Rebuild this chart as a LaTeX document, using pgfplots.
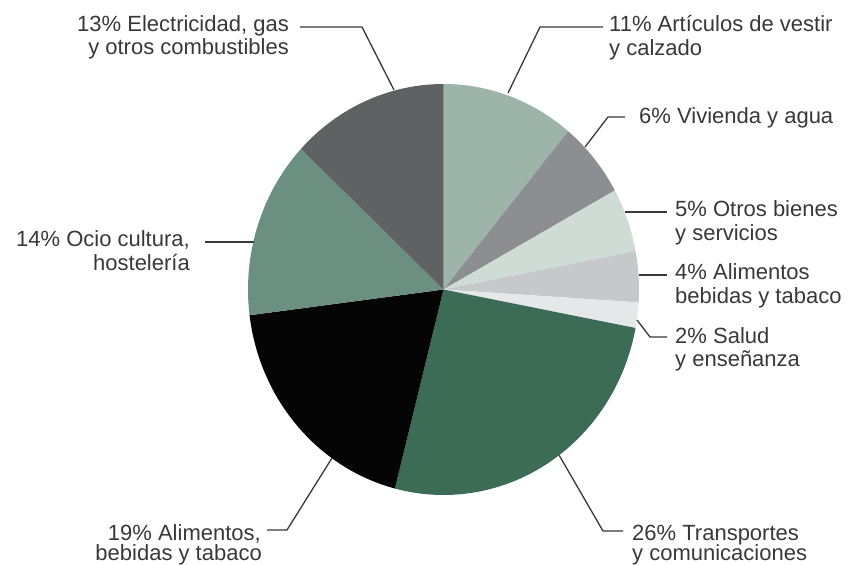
\documentclass[border=0pt]{standalone}
\usepackage{pgfplots}
\pgfplotsset{compat=1.18}
\usepackage{fontspec}
\setmainfont{Liberation Sans}
\definecolor{cArt}{HTML}{9DB5A9}
\definecolor{cViv}{HTML}{8D8E91}
\definecolor{cOtr}{HTML}{CFDCD6}
\definecolor{cAlA}{HTML}{C7C8C9}
\definecolor{cSal}{HTML}{E6E7E8}
\definecolor{cTra}{HTML}{3C6B56}
\definecolor{cAlB}{HTML}{050505}
\definecolor{cOci}{HTML}{6B8F80}
\definecolor{cEle}{HTML}{606163}
\definecolor{txt}{HTML}{383838}
\begin{document}
\begin{tikzpicture}
% shares in percent, clockwise from the top
\def\pArt{11}\def\pViv{6}\def\pOtr{5}\def\pAlA{4}\def\pSal{2}
\def\pTra{26}\def\pAlB{19}\def\pOci{14}\def\pEle{13}
\pgfmathsetmacro\aA{90}
\pgfmathsetmacro\aB{\aA-3.6*\pArt}
\pgfmathsetmacro\aC{\aB-3.6*\pViv}
\pgfmathsetmacro\aD{\aC-3.6*\pOtr}
\pgfmathsetmacro\aE{\aD-3.6*\pAlA}
\pgfmathsetmacro\aF{\aE-3.6*\pSal}
\pgfmathsetmacro\aG{\aF-3.6*\pTra}
\pgfmathsetmacro\aH{\aG-3.6*\pAlB}
\pgfmathsetmacro\aI{\aH-3.6*\pOci}
\pgfmathsetmacro\aJ{\aI-3.6*\pEle}
\def\rx{195.5bp}\def\ry{205.5bp}
\begin{axis}[hide axis, scale only axis, width=849bp, height=565bp,
  xmin=0, xmax=849, ymin=0, ymax=565, clip=false]
\addplot[draw=none, forget plot] coordinates {(0,0) (849,565)};
\def\wedge#1#2#3{\fill[#1] (axis cs:443.5,275.5) -- ++(#2:\rx\space and \ry) arc[start angle=#2, end angle=#3, x radius=\rx, y radius=\ry] -- cycle;}
\fill[cArt] (axis cs:443.5,275.5) -- ++(\aA:195.5bp and 205.5bp) arc[start angle=\aA, end angle=\aB, x radius=195.5bp, y radius=205.5bp] -- cycle;
\fill[cViv] (axis cs:443.5,275.5) -- ++(\aB:195.5bp and 205.5bp) arc[start angle=\aB, end angle=\aC, x radius=195.5bp, y radius=205.5bp] -- cycle;
\fill[cOtr] (axis cs:443.5,275.5) -- ++(\aC:195.5bp and 205.5bp) arc[start angle=\aC, end angle=\aD, x radius=195.5bp, y radius=205.5bp] -- cycle;
\fill[cAlA] (axis cs:443.5,275.5) -- ++(\aD:195.5bp and 205.5bp) arc[start angle=\aD, end angle=\aE, x radius=195.5bp, y radius=205.5bp] -- cycle;
\fill[cSal] (axis cs:443.5,275.5) -- ++(\aE:195.5bp and 205.5bp) arc[start angle=\aE, end angle=\aF, x radius=195.5bp, y radius=205.5bp] -- cycle;
\fill[cTra] (axis cs:443.5,275.5) -- ++(\aF:195.5bp and 205.5bp) arc[start angle=\aF, end angle=\aG, x radius=195.5bp, y radius=205.5bp] -- cycle;
\fill[cAlB] (axis cs:443.5,275.5) -- ++(\aG:195.5bp and 205.5bp) arc[start angle=\aG, end angle=\aH, x radius=195.5bp, y radius=205.5bp] -- cycle;
\fill[cOci] (axis cs:443.5,275.5) -- ++(\aH:195.5bp and 205.5bp) arc[start angle=\aH, end angle=\aI, x radius=195.5bp, y radius=205.5bp] -- cycle;
\fill[cEle] (axis cs:443.5,275.5) -- ++(\aI:195.5bp and 205.5bp) arc[start angle=\aI, end angle=\aJ, x radius=195.5bp, y radius=205.5bp] -- cycle;
% leader lines
\begin{scope}[line width=1.3bp, txt]
\draw (axis cs:300,538) -- (axis cs:362,538) -- (axis cs:394,475);
\draw (axis cs:603,538) -- (axis cs:540,538) -- (axis cs:508,472);
\draw (axis cs:625,448) -- (axis cs:608,448) -- (axis cs:585,418);
\draw (axis cs:625,353) -- (axis cs:667,353);
\draw (axis cs:638.5,290) -- (axis cs:667,290);
\draw (axis cs:637,245) -- (axis cs:650,228) -- (axis cs:667,228);
\draw (axis cs:205,323) -- (axis cs:253.5,323);
\draw (axis cs:267,35) -- (axis cs:287,35) -- (axis cs:332,107);
\draw (axis cs:559,110) -- (axis cs:603,34) -- (axis cs:623,34);
\end{scope}
% labels
\begin{scope}[every node/.style={inner sep=0pt, text=txt, font=\fontsize{22bp}{24bp}\selectfont}]
\node[anchor=base east] at (axis cs:289,533) {13\% Electricidad, gas};
\node[anchor=base east] at (axis cs:289,510) {y otros combustibles};
\node[anchor=base west] at (axis cs:609,533) {11\% Artículos de vestir};
\node[anchor=base west] at (axis cs:609,509) {y calzado};
\node[anchor=base west] at (axis cs:639,441) {6\% Vivienda y agua};
\node[anchor=base west] at (axis cs:675,348) {5\% Otros bienes};
\node[anchor=base west] at (axis cs:675,324) {y servicios};
\node[anchor=base west] at (axis cs:675,285) {4\% Alimentos};
\node[anchor=base west] at (axis cs:675,261) {bebidas y tabaco};
\node[anchor=base west] at (axis cs:675,221) {2\% Salud};
\node[anchor=base west] at (axis cs:675,198) {y enseñanza};
\node[anchor=base east] at (axis cs:190,318) {14\% Ocio cultura,};
\node[anchor=base east] at (axis cs:190,294) {hostelería};
\node[anchor=base east] at (axis cs:261,25) {19\% Alimentos,};
\node[anchor=base east] at (axis cs:262,5) {bebidas y tabaco};
\node[anchor=base west] at (axis cs:632,25) {26\% Transportes};
\node[anchor=base west] at (axis cs:632,5) {y comunicaciones};
\end{scope}
\end{axis}
\pgfresetboundingbox
\path (current axis.south west) rectangle (current axis.north east);
\end{tikzpicture}
\end{document}
